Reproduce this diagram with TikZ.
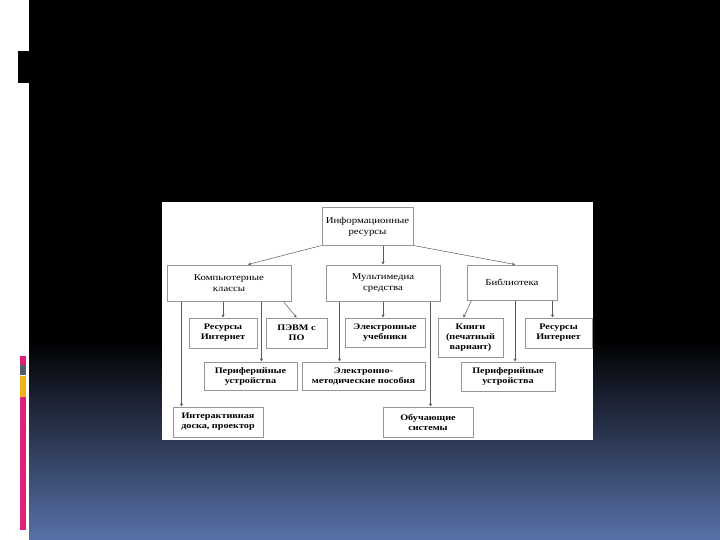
\documentclass[tikz,border=0pt]{standalone}
\usepackage{fontspec}
\setmainfont{Liberation Serif}
\newfontfamily\wideserif[FakeStretch=1.2]{Liberation Serif}
\usepackage{tikz}
\usetikzlibrary{arrows.meta, positioning, calc}
\definecolor{cPink}{RGB}{222,32,122}
\definecolor{cSlate}{RGB}{82,92,104}
\definecolor{cGold}{RGB}{240,180,24}
\definecolor{cSky}{RGB}{88,113,168}
\definecolor{cEdge}{RGB}{150,150,150}
\tikzset{
	topbox/.style ={rectangle, draw=cEdge, line width=1pt, fill=white, align=center, inner sep=1pt, font=\wideserif\fontsize{9}{11}\selectfont},
	leafbox/.style={rectangle, draw=cEdge, line width=1pt, fill=white, align=center, inner sep=1pt, font=\wideserif\fontsize{8.5}{10}\selectfont\bfseries},
	lnk/.style    ={-{Stealth[length=3pt,width=3pt]}, line width=0.5pt, draw=gray!70!black},
}
\begin{document}
\begin{tikzpicture}[x=1pt, y=-1pt]
	\useasboundingbox (0,0) rectangle (720,540);
	% slide background
	\fill[white] (0,0) rectangle (720,540);
	\fill[black] (29,0) rectangle (720,341);
	\shade[top color=black, bottom color=cSky] (29,340) rectangle (720,540);
	\fill[black] (17,51) rectangle (29,83);
	\draw[white, line width=0.5pt] (17.5,51) -- (17.5,83);
	\fill[cPink] (20,356) rectangle (26,365);
	\fill[cSlate] (20,365) rectangle (26,375);
	\fill[cGold] (20,376) rectangle (26,397);
	\fill[cPink] (20,397) rectangle (26,530);
	% picture panel
	\fill[white] (162,202) rectangle (593,440);
	% level 0 and 1
	\node[topbox, minimum width=91pt, minimum height=37pt] (info) at (367.5,226.5) {Информационные\\ресурсы};
	\node[topbox, minimum width=124pt, minimum height=36pt] (komp) at (229,283) {Компьютерные\\классы};
	\node[topbox, minimum width=114pt, minimum height=36pt] (multi) at (383,283) {Мультимедиа\\средства};
	\node[topbox, minimum width=90pt, minimum height=35pt] (bibl) at (512,282.5) {Библиотека};
	% level 2
	\node[leafbox, minimum width=68pt, minimum height=30pt] (resL) at (223,333) {Ресурсы\\Интернет};
	\node[leafbox, minimum width=61pt, minimum height=30pt] (pevm) at (296.5,333) {ПЭВМ с\\ПО};
	\node[leafbox, minimum width=80pt, minimum height=29pt] (ucheb) at (385,332.5) {Электронные\\учебники};
	\node[leafbox, minimum width=65pt, minimum height=39pt] (knigi) at (470.5,337.5) {Книги\\(печатный\\вариант)};
	\node[leafbox, minimum width=67pt, minimum height=30pt] (resR) at (558.5,333) {Ресурсы\\Интернет};
	\node[leafbox, minimum width=93pt, minimum height=28pt] (perL) at (250.5,376) {Периферийные\\устройства};
	\node[leafbox, minimum width=123pt, minimum height=28pt] (emp) at (363.5,376) {Электронно-\\методические пособия};
	\node[leafbox, minimum width=94pt, minimum height=29pt] (perR) at (508,376.5) {Периферийные\\устройства};
	\node[leafbox, minimum width=90pt, minimum height=30pt] (inter) at (218,422) {Интерактивная\\доска, проектор};
	\node[leafbox, minimum width=90pt, minimum height=30pt] (obuch) at (428,422) {Обучающие\\системы};
	% branch points
	\coordinate (k1) at ([xshift=15pt]komp.south west);
	\coordinate (k3) at ([xshift=95pt]komp.south west);
	\coordinate (m1) at ([xshift=14pt]multi.south west);
	\coordinate (m3) at ([xshift=-10pt]multi.south east);
	\coordinate (b2) at ([xshift=3pt]bibl.south);
	\coordinate (b3) at ([xshift=-5pt]bibl.south east);
	% connectors
	\draw[lnk] (info.south west) -- ([xshift=19pt]komp.north);
	\draw[lnk] (info.south -| multi.north) -- (multi.north);
	\draw[lnk] (info.south east) -- ([xshift=3pt]bibl.north);
	\draw[lnk] (k1) -- (k1 |- inter.north);
	\draw[lnk] (resL.north |- komp.south) -- (resL.north);
	\draw[lnk] (k3) -- (k3 |- perL.north);
	\draw[lnk] ([xshift=-8pt]komp.south east) -- (pevm.north);
	\draw[lnk] (m1) -- (m1 |- emp.north);
	\draw[lnk] (multi.south) -- (multi.south |- ucheb.north);
	\draw[lnk] (m3) -- (m3 |- obuch.north);
	\draw[lnk] ([xshift=5pt]bibl.south west) -- ([xshift=-7pt]knigi.north);
	\draw[lnk] (b2) -- (b2 |- perR.north);
	\draw[lnk] (b3) -- (b3 |- resR.north);
\end{tikzpicture}
\end{document}
